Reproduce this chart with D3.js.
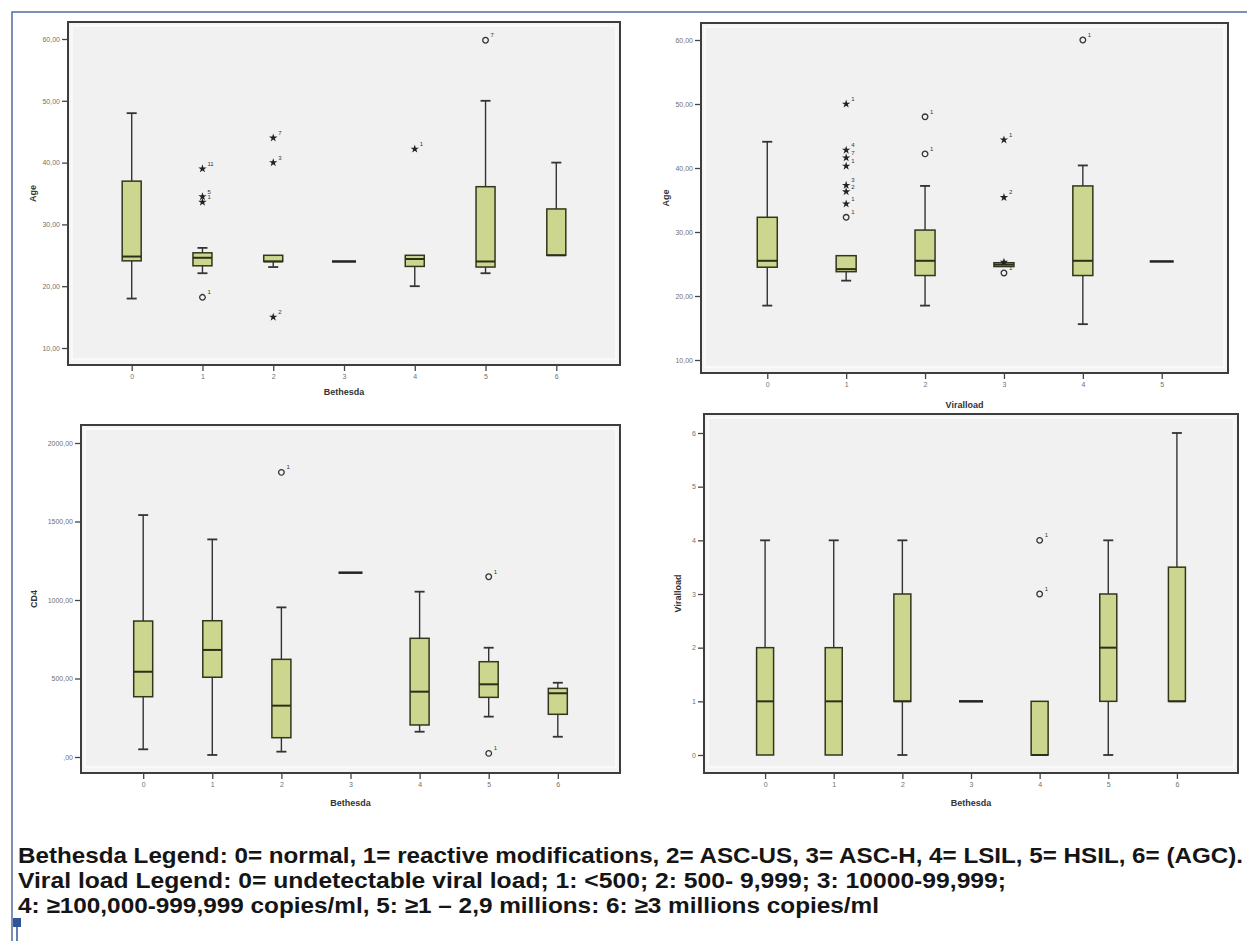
<!DOCTYPE html>
<html lang="en">
<head>
  <meta charset="UTF-8">
  <title>Boxplots Bethesda / Viralload</title>
  <script src="https://d3js.org/d3.v7.min.js"></script>
  <style>
    body {
      margin: 0;
      background: #ffffff;
      font-family: 'Liberation Sans', Arial, sans-serif;
    }
    .tick-label { font-size: 7px; fill: #707070; }
    .axis-title { font-size: 9px; font-weight: bold; fill: #333; }
    .legend-line { font-size: 22px; font-weight: bold; fill: #151515; }
    .sup { font-size: 6px; fill: #333; }
  </style>
</head>
<body>
  <svg id="chart" width="1247" height="941"></svg>

  <script>
    // categories
    const bethesdaCats = ["0", "1", "2", "3", "4", "5", "6"];
    const viralCats = ["0", "1", "2", "3", "4", "5"];

    // tick values
    const ageTicks = [10, 20, 30, 40, 50, 60];
    const cd4Ticks = [0, 500, 1000, 1500, 2000];
    const viralTicks = [0, 1, 2, 3, 4, 5, 6];

    // box stats: [min, q1, median, q3, max]
    const ageByBethesda = [
      [18, 24.1, 24.8, 37, 48],
      [22.1, 23.3, 24.6, 25.4, 26.2],
      [23.1, 24, 24, 25, 25],
      [24, 24, 24, 24, 24],
      [20, 23.2, 24.4, 25, 25],
      [22.1, 23.1, 24, 36.1, 50],
      [25, 25, 25, 32.5, 40]
    ];
    // outliers: [category, value, kind, label]
    const ageByBethesdaOut = [
      ["1", 39, "star", "11"], ["1", 34.5, "star", "5"], ["1", 33.6, "star", "1"], ["1", 18.2, "circle", "1"],
      ["2", 44, "star", "7"], ["2", 40, "star", "3"], ["2", 15, "star", "2"],
      ["4", 42.2, "star", "1"],
      ["5", 59.8, "circle", "7"]
    ];

    const ageByViral = [
      [18.5, 24.5, 25.5, 32.3, 44.1],
      [22.4, 23.8, 24.2, 26.3, 26.3],
      [18.5, 23.2, 25.5, 30.3, 37.2],
      [24.6, 24.6, 24.9, 25.2, 25.2],
      [15.6, 23.2, 25.5, 37.2, 40.4],
      [25.4, 25.4, 25.4, 25.4, 25.4]
    ];
    const ageByViralOut = [
      ["1", 50, "star", "1"], ["1", 42.8, "star", "4"], ["1", 41.6, "star", "7"], ["1", 40.3, "star", "1"],
      ["1", 37.3, "star", "3"], ["1", 36.3, "star", "2"], ["1", 34.4, "star", "1"], ["1", 32.3, "circle", "1"],
      ["2", 48, "circle", "1"], ["2", 42.2, "circle", "1"],
      ["3", 44.4, "star", "1"], ["3", 35.4, "star", "2"], ["3", 25.3, "star", ""], ["3", 23.6, "circle", "1"],
      ["4", 60, "circle", "1"]
    ];

    const cd4ByBethesda = [
      [49, 384, 543, 866, 1541],
      [13, 508, 682, 868, 1386],
      [34, 123, 327, 622, 953],
      [1174, 1174, 1174, 1174, 1174],
      [161, 204, 416, 756, 1053],
      [257, 380, 463, 607, 696],
      [129, 272, 406, 437, 473]
    ];
    const cd4ByBethesdaOut = [
      ["2", 1813, "circle", "1"],
      ["5", 1148, "circle", "1"], ["5", 23, "circle", "1"]
    ];

    const viralByBethesda = [
      [0, 0, 1, 2, 4],
      [0, 0, 1, 2, 4],
      [0, 1, 1, 3, 4],
      [1, 1, 1, 1, 1],
      [0, 0, 0, 1, 1],
      [0, 1, 2, 3, 4],
      [1, 1, 1, 3.5, 6]
    ];
    const viralByBethesdaOut = [
      ["4", 4, "circle", "1"], ["4", 3, "circle", "1"]
    ];

    const legendLines = [
      "Bethesda Legend: 0= normal, 1= reactive modifications, 2= ASC-US, 3= ASC-H, 4= LSIL, 5= HSIL, 6= (AGC).",
      "Viral load Legend: 0= undetectable viral load; 1: <500; 2: 500- 9,999; 3: 10000-99,999;",
      "4: \u2265100,000-999,999 copies/ml, 5: \u22651 \u2013 2,9 millions: 6: \u22653 millions copies/ml"
    ];

    const svg = d3.select("#chart");

    // blue page frame
    svg.append("path")
      .attr("d", "M12,941 L12,12 L1247,12")
      .attr("fill", "none")
      .attr("stroke", "#4d6fa3")
      .attr("stroke-width", 1.5);

    const fmtComma = d => (d === 0 ? "" : d) + ",00";

    function drawPanel(cfg) {
      const g = svg.append("g");
      const f = cfg.frame;

      const x = d3.scalePoint().domain(cfg.cats).range([f.x0, f.x1]).padding(cfg.pad);
      const y = d3.scaleLinear().domain(cfg.yDomain).range(cfg.yRange);

      // frame + plot background
      g.append("rect")
        .attr("x", f.x0).attr("y", f.y0)
        .attr("width", f.x1 - f.x0).attr("height", f.y1 - f.y0)
        .attr("fill", "#f4f4f4");
      g.append("rect")
        .attr("x", f.x0 + 4).attr("y", f.y0 + 4)
        .attr("width", f.x1 - f.x0 - 8).attr("height", f.y1 - f.y0 - 10)
        .attr("fill", "#f1f1f1")
        .attr("stroke", "#fbfbfb")
        .attr("stroke-width", 1.5);
      g.append("rect")
        .attr("x", f.x0).attr("y", f.y0)
        .attr("width", f.x1 - f.x0).attr("height", f.y1 - f.y0)
        .attr("fill", "none")
        .attr("stroke", "#3d3d3d")
        .attr("stroke-width", 2);

      // y axis
      const yAxis = g.append("g")
        .attr("transform", `translate(${f.x0},0)`)
        .call(d3.axisLeft(y).tickValues(cfg.ticks).tickFormat(cfg.tickFmt).tickSize(6).tickPadding(2));
      yAxis.select(".domain").remove();
      yAxis.selectAll("line").attr("stroke", "#444").attr("stroke-width", 1.3);
      yAxis.selectAll("text").attr("class", "tick-label").attr("font-family", null).attr("font-size", null);

      // x axis
      const xAxis = g.append("g")
        .attr("transform", `translate(0,${f.y1})`)
        .call(d3.axisBottom(x).tickSize(6).tickPadding(3));
      xAxis.select(".domain").remove();
      xAxis.selectAll("line").attr("stroke", "#444").attr("stroke-width", 1.3);
      xAxis.selectAll("text").attr("class", "tick-label").attr("font-family", null).attr("font-size", null);

      // titles
      g.append("text")
        .attr("class", "axis-title")
        .attr("x", (f.x0 + f.x1) / 2).attr("y", cfg.xTitleY)
        .attr("text-anchor", "middle")
        .text(cfg.xTitle);
      g.append("text")
        .attr("class", "axis-title")
        .attr("transform", `translate(${cfg.yTitleX},${(f.y0 + f.y1) / 2}) rotate(-90)`)
        .attr("text-anchor", "middle")
        .text(cfg.yTitle);

      const bw = cfg.boxW;
      const items = g.selectAll(".bx")
        .data(cfg.boxes.map((b, i) => ({ cat: cfg.cats[i], s: b })))
        .enter().append("g")
        .attr("class", "bx")
        .attr("transform", d => `translate(${x(d.cat)},0)`);

      items.each(function(d) {
        const el = d3.select(this);
        const [mn, q1, md, q3, mx] = d.s;
        if (q1 === q3) {
          el.append("line")
            .attr("x1", -12).attr("x2", 12)
            .attr("y1", y(md)).attr("y2", y(md))
            .attr("stroke", "#222").attr("stroke-width", 2.5);
          return;
        }
        // whiskers
        if (mx > q3) {
          el.append("line").attr("x1", 0).attr("x2", 0).attr("y1", y(q3)).attr("y2", y(mx))
            .attr("stroke", "#333").attr("stroke-width", 1.4);
          el.append("line").attr("x1", -5).attr("x2", 5).attr("y1", y(mx)).attr("y2", y(mx))
            .attr("stroke", "#333").attr("stroke-width", 1.8);
        }
        if (mn < q1) {
          el.append("line").attr("x1", 0).attr("x2", 0).attr("y1", y(q1)).attr("y2", y(mn))
            .attr("stroke", "#333").attr("stroke-width", 1.4);
          el.append("line").attr("x1", -5).attr("x2", 5).attr("y1", y(mn)).attr("y2", y(mn))
            .attr("stroke", "#333").attr("stroke-width", 1.8);
        }
        el.append("rect")
          .attr("x", -bw / 2).attr("width", bw)
          .attr("y", y(q3)).attr("height", y(q1) - y(q3))
          .attr("fill", "#cdd68e")
          .attr("stroke", "#33361c")
          .attr("stroke-width", 1.5);
        el.append("line")
          .attr("x1", -bw / 2).attr("x2", bw / 2)
          .attr("y1", y(md)).attr("y2", y(md))
          .attr("stroke", "#2c2f18").attr("stroke-width", 2);
      });

      // outliers
      const outs = g.selectAll(".out")
        .data(cfg.outliers)
        .enter().append("g")
        .attr("class", "out")
        .attr("transform", d => `translate(${x(d[0])},${y(d[1])})`);
      outs.filter(d => d[2] === "circle").append("circle")
        .attr("r", 2.8)
        .attr("fill", "none")
        .attr("stroke", "#333")
        .attr("stroke-width", 1.3);
      outs.filter(d => d[2] === "star").append("path")
        .attr("d", d3.symbol(d3.symbolStar, 22))
        .attr("fill", "#222");
      outs.append("text")
        .attr("class", "sup")
        .attr("x", 5).attr("y", -3)
        .text(d => d[3]);
    }

    drawPanel({
      frame: { x0: 68, y0: 22, x1: 620, y1: 365 },
      cats: bethesdaCats, pad: 0.9,
      yDomain: [10, 60], yRange: [348, 39], ticks: ageTicks, tickFmt: fmtComma,
      boxes: ageByBethesda, outliers: ageByBethesdaOut, boxW: 19,
      xTitle: "Bethesda", xTitleY: 395, yTitle: "Age", yTitleX: 36
    });

    drawPanel({
      frame: { x0: 701, y0: 23, x1: 1228, y1: 373 },
      cats: viralCats, pad: 0.84,
      yDomain: [10, 60], yRange: [360, 40], ticks: ageTicks, tickFmt: fmtComma,
      boxes: ageByViral, outliers: ageByViralOut, boxW: 20,
      xTitle: "Viralload", xTitleY: 408, yTitle: "Age", yTitleX: 669
    });

    drawPanel({
      frame: { x0: 81, y0: 425, x1: 620, y1: 773 },
      cats: bethesdaCats, pad: 0.9,
      yDomain: [0, 2000], yRange: [757, 443], ticks: cd4Ticks, tickFmt: fmtComma,
      boxes: cd4ByBethesda, outliers: cd4ByBethesdaOut, boxW: 19,
      xTitle: "Bethesda", xTitleY: 806, yTitle: "CD4", yTitleX: 37
    });

    drawPanel({
      frame: { x0: 704, y0: 414, x1: 1238, y1: 773 },
      cats: bethesdaCats, pad: 0.89,
      yDomain: [0, 6], yRange: [755, 433], ticks: viralTicks, tickFmt: d3.format("d"),
      boxes: viralByBethesda, outliers: viralByBethesdaOut, boxW: 17,
      xTitle: "Bethesda", xTitleY: 806, yTitle: "Viralload", yTitleX: 681
    });

    // legend text
    const legendEnds = [1243, 1006, 879];
    svg.selectAll(".legend-line")
      .data(legendLines)
      .enter().append("text")
      .attr("class", "legend-line")
      .attr("x", 18)
      .attr("y", (d, i) => 863 + i * 25)
      .attr("textLength", (d, i) => legendEnds[i] - 18)
      .attr("lengthAdjust", "spacingAndGlyphs")
      .text(d => d);

    // small blue marker bottom left
    svg.append("rect")
      .attr("x", 13).attr("y", 918).attr("width", 8).attr("height", 9)
      .attr("fill", "#2f5597");
    svg.append("line")
      .attr("x1", 17).attr("x2", 17).attr("y1", 927).attr("y2", 941)
      .attr("stroke", "#2f5597").attr("stroke-width", 1.5);
  </script>
</body>
</html>
